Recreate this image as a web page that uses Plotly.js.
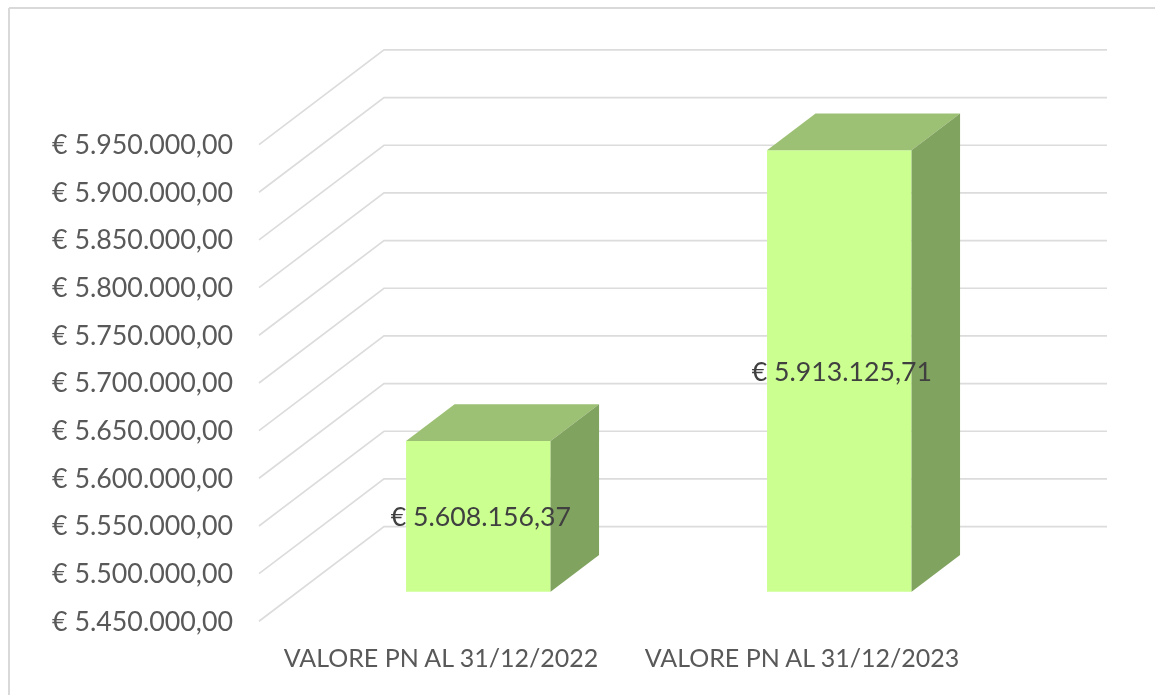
<!DOCTYPE html>
<html>
<head>
<meta charset="utf-8">
<script src="https://cdn.plot.ly/plotly-3.0.1.min.js"></script>
<style>html,body{margin:0;padding:0;background:#fff}#chart{width:1155px;height:695px;filter:blur(.45px)}</style>
</head>
<body>
<div id="chart"></div>
<script>
const categories = ['VALORE PN AL 31/12/2022', 'VALORE PN AL 31/12/2023'];
const values = [5608156.37, 5913125.71];
const valueLabels = ['€ 5.608.156,37', '€ 5.913.125,71'];
const tickValues = [5450000, 5500000, 5550000, 5600000, 5650000, 5700000, 5750000, 5800000, 5850000, 5900000, 5950000];
const tickLabels = ['€ 5.450.000,00', '€ 5.500.000,00', '€ 5.550.000,00', '€ 5.600.000,00', '€ 5.650.000,00', '€ 5.700.000,00', '€ 5.750.000,00', '€ 5.800.000,00', '€ 5.850.000,00', '€ 5.900.000,00', '€ 5.950.000,00'];

// Projection of the fake 3D box, expressed in axis units
const W = 1155, H = 695;
const mL = 240, mR = 35, mT = 20, mB = 60;
const pxPerCat = 361, pxPerVal = 47.67 / 50000;
const cat0Px = 441, floorPx = 621.3;
const dx = px => px / pxPerCat;
const dv = px => px / pxPerVal;
const xRange = [(mL - cat0Px) / pxPerCat, (W - mR - cat0Px) / pxPerCat];
const yBase = tickValues[0];
const yRange = [yBase - (H - mB - floorPx) / pxPerVal, yBase + (floorPx - mT) / pxPerVal];

const wallDX = dx(125), wallDV = dv(94.7);
const gridLeft = dx(259 - cat0Px);
const gridRight = dx(1107 - cat0Px);
const barFrontDX = dx(37.3), barFrontDV = dv(29.6);
const barBackDX = dx(48.5), barBackDV = dv(36.7);
const barW = dx(144.5);

const colFront = '#CBFF90', colTop = '#9DC174', colSide = '#80A35F', colGrid = '#DCDCDC';

// wall and floor grid lines, kept under every trace
const gridShapes = tickValues.map(v => ({
  type: 'path', xref: 'x', yref: 'y', layer: 'below',
  path: `M ${gridLeft} ${v} L ${gridLeft + wallDX} ${v + wallDV} L ${gridRight} ${v + wallDV}`,
  line: {color: colGrid, width: 1.7}
}));

const traces = [];
// front faces
const xc = categories.map((_, i) => i + barFrontDX);
traces.push({type: 'bar', x: xc, y: values.map(v => v - yBase), base: values.map(() => yBase + barFrontDV),
  width: barW, marker: {color: colFront, line: {width: 0}}, showlegend: false, hoverinfo: 'skip'});
// top and side faces
values.forEach((v, i) => {
  const l = xc[i] - barW / 2, r = xc[i] + barW / 2;
  const top = v + barFrontDV, bot = yBase + barFrontDV;
  traces.push({type: 'scatter', mode: 'lines', fill: 'toself', fillcolor: colTop, line: {width: 0, color: colTop},
    showlegend: false, hoverinfo: 'skip',
    x: [l, l + barBackDX, r + barBackDX, r, l],
    y: [top, top + barBackDV, top + barBackDV, top, top]});
  traces.push({type: 'scatter', mode: 'lines', fill: 'toself', fillcolor: colSide, line: {width: 0, color: colSide},
    showlegend: false, hoverinfo: 'skip',
    x: [r, r + barBackDX, r + barBackDX, r, r],
    y: [top, top + barBackDV, bot + barBackDV, bot, top]});
});
// data labels
traces.push({type: 'scatter', mode: 'text', x: xc.map(x => x + dx(2.5)), y: values.map(v => (v + yBase) / 2 + barFrontDV - dv(3)),
  text: valueLabels, textposition: 'middle center', textfont: {family: 'Lato', size: 26.7, color: '#404040'},
  showlegend: false, hoverinfo: 'skip', cliponaxis: false});

const pxToPaperX = p => (p - mL) / (W - mL - mR);
const pxToPaperY = p => 1 - (p - mT) / (H - mT - mB);

const layout = {
  width: W, height: H, autosize: false, showlegend: false,
  margin: {l: mL, r: mR, t: mT, b: mB, pad: 0},
  paper_bgcolor: '#fff', plot_bgcolor: 'rgba(0,0,0,0)',
  font: {family: 'Lato', size: 24, color: '#595959'},
  barmode: 'overlay',
  xaxis: {range: xRange, tickmode: 'array', tickvals: [0, 1], ticktext: categories,
    showgrid: false, zeroline: false, showline: false, ticks: '', ticklabelstandoff: 6, fixedrange: true,
    tickfont: {family: 'Lato', size: 25, color: '#595959'}},
  yaxis: {range: yRange, tickmode: 'array', tickvals: tickValues, ticktext: tickLabels,
    showgrid: false, zeroline: false, showline: false, ticks: '', ticklabelstandoff: 6, fixedrange: true,
    tickfont: {family: 'Lato', size: 26.8, color: '#595959'}},
  shapes: gridShapes.concat([
    {type: 'line', xref: 'paper', yref: 'paper', x0: pxToPaperX(9), x1: pxToPaperX(9), y0: pxToPaperY(8), y1: pxToPaperY(695), line: {color: '#D9D9D9', width: 2}},
    {type: 'line', xref: 'paper', yref: 'paper', x0: pxToPaperX(9), x1: pxToPaperX(1155), y0: pxToPaperY(8), y1: pxToPaperY(8), line: {color: '#D9D9D9', width: 2}}
  ])
};
Plotly.newPlot('chart', traces, layout, {displayModeBar: false, staticPlot: true});
</script>
</body>
</html>
